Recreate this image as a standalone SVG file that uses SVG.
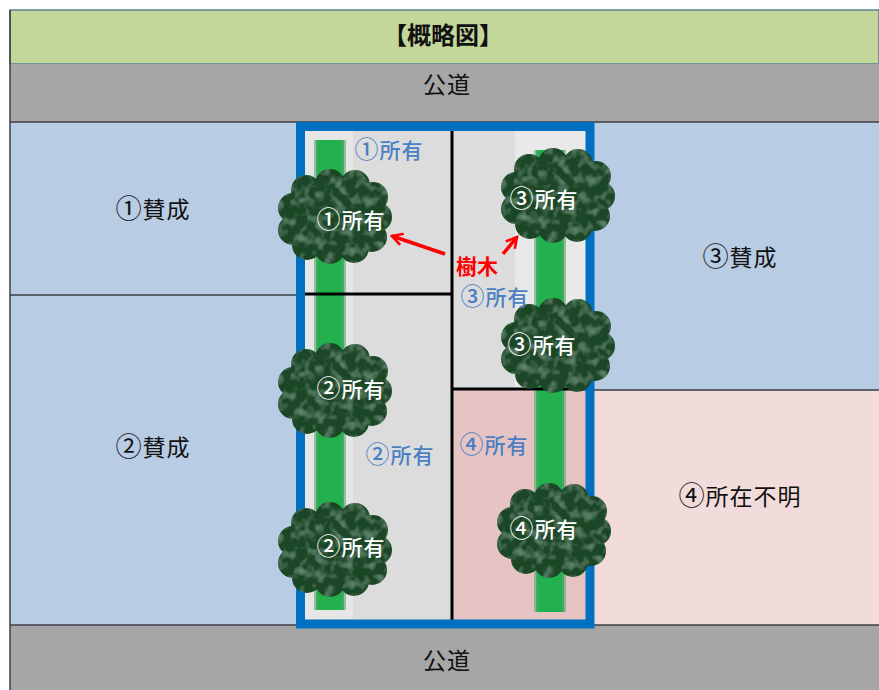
<svg xmlns="http://www.w3.org/2000/svg" width="879" height="690" viewBox="0 0 879 690">
  <style>
    text { font-family: "Noto Sans CJK JP", "Noto Sans", sans-serif; text-anchor: middle; }
    .lbl { font-size: 23px; fill: #111; letter-spacing: 1px; }
    .own { font-size: 21px; fill: #4a7fc4; letter-spacing: 1px; font-weight: 500; }
    .tree-lbl { font-size: 21px; fill: #ffffff; letter-spacing: 1px; font-weight: 500; }
    .num { font-size: 1.14em; }
    .edge { stroke: #3a3f46; stroke-width: 1.5; fill: none; }
    .div { stroke: #000; stroke-width: 3; fill: none; }
    .strip { fill: #22b14c; }
    .strip-edge { fill: #5aa56c; opacity: 0.6; }
  </style>
  <defs>
    <filter id="leaf" x="-10%" y="-10%" width="120%" height="120%">
      <feTurbulence type="fractalNoise" baseFrequency="0.1" numOctaves="2" seed="5" result="n"/>
      <feColorMatrix in="n" type="matrix" values="0 0 0 0 0.22  0 0 0 0 0.42  0 0 0 0 0.29  0 0 0 1.3 -0.6" result="spots"/>
      <feComposite in="spots" in2="SourceGraphic" operator="in" result="s2"/>
      <feMerge><feMergeNode in="SourceGraphic"/><feMergeNode in="s2"/></feMerge>
    </filter>
    <g id="cloud" fill="#1b4728">
      <ellipse cx="0" cy="0" rx="42" ry="36"/>
      <circle cx="-5" cy="-32" r="15"/>
      <circle cx="20" cy="-31" r="15"/>
      <circle cx="38" cy="-19" r="15"/>
      <circle cx="42" cy="1" r="15"/>
      <circle cx="37" cy="21" r="15"/>
      <circle cx="19" cy="32" r="15"/>
      <circle cx="-5" cy="33" r="15"/>
      <circle cx="-28" cy="29" r="15"/>
      <circle cx="-42" cy="14" r="15"/>
      <circle cx="-42" cy="-8" r="15"/>
      <circle cx="-29" cy="-26" r="15"/>
    </g>
    <marker id="head" viewBox="0 0 12 12" refX="10" refY="6" markerWidth="4" markerHeight="4" orient="auto" markerUnits="strokeWidth">
      <path d="M1,1 L10,6 L1,11" fill="none" stroke="#ff0000" stroke-width="2.2"/>
    </marker>
  </defs>

  <!-- background -->
  <rect x="0" y="0" width="879" height="690" fill="#ffffff"/>

  <!-- header band -->
  <g id="header">
    <rect x="10" y="10" width="869" height="54" fill="#c4d79b" stroke="#5b7f95" stroke-width="1.5"/>
    <text x="443" y="44" style="font-size:24px;font-weight:bold;fill:#111">【概略図】</text>
  </g>

  <!-- public roads -->
  <g id="road-top">
    <rect x="10" y="64" width="869" height="58" fill="#a6a6a6"/>
    <text class="lbl" x="447" y="93">公道</text>
  </g>
  <g id="road-bottom">
    <rect x="10" y="625" width="869" height="65" fill="#a6a6a6"/>
    <text class="lbl" x="447" y="669">公道</text>
  </g>

  <!-- neighbouring lots -->
  <g id="lot-1">
    <rect x="10" y="122" width="290" height="173" fill="#b8cce4"/>
    <text class="lbl" x="153" y="218"><tspan class="num">①</tspan>賛成</text>
  </g>
  <g id="lot-2">
    <rect x="10" y="295" width="290" height="330" fill="#b8cce4"/>
    <text class="lbl" x="153" y="456"><tspan class="num">②</tspan>賛成</text>
  </g>
  <g id="lot-3">
    <rect x="590" y="122" width="289" height="268" fill="#b8cce4"/>
    <text class="lbl" x="740" y="266"><tspan class="num">③</tspan>賛成</text>
  </g>
  <g id="lot-4">
    <rect x="590" y="390" width="289" height="235" fill="#f2dcdb"/>
    <text class="lbl" x="740" y="505"><tspan class="num">④</tspan>所在不明</text>
  </g>

  <!-- boundary lines between lots and roads -->
  <g id="boundaries">
    <line class="edge" x1="10" y1="10" x2="10" y2="690"/>
    <line class="edge" x1="10" y1="122" x2="879" y2="122"/>
    <line class="edge" x1="10" y1="295" x2="300" y2="295"/>
    <line class="edge" x1="590" y1="390" x2="879" y2="390"/>
    <line class="edge" x1="10" y1="625" x2="879" y2="625"/>
  </g>

  <!-- private road site -->
  <g id="site">
    <rect x="300" y="126" width="290" height="498" fill="#dcdcdc"/>
    <rect x="305" y="131" width="48" height="488" fill="#e6e6e6"/>
    <rect x="515" y="131" width="73" height="259" fill="#e9e9e9"/>
    <rect x="452" y="390" width="136" height="230" fill="#e6c4c4"/>
  </g>

  <!-- hedge strips -->
  <g id="hedge-left">
    <rect class="strip" x="316" y="140" width="28" height="470"/>
    <rect class="strip-edge" x="314" y="140" width="4" height="470"/>
    <rect class="strip-edge" x="342" y="140" width="4" height="470"/>
  </g>
  <g id="hedge-right">
    <rect class="strip" x="536" y="150" width="28" height="462"/>
    <rect class="strip-edge" x="534" y="150" width="4" height="462"/>
    <rect class="strip-edge" x="562" y="150" width="4" height="462"/>
  </g>

  <!-- parcel division lines -->
  <g id="divisions">
    <line class="div" x1="452" y1="128" x2="452" y2="620"/>
    <line class="div" x1="300" y1="294" x2="452" y2="294"/>
    <line class="div" x1="452" y1="389" x2="588" y2="389"/>
  </g>

  <!-- site outline -->
  <rect id="site-outline" x="300.5" y="126.5" width="289.5" height="497.5" fill="none" stroke="#0070c0" stroke-width="9"/>

  <!-- trees -->
  <g id="tree-1">
    <use href="#cloud" transform="translate(335,216)" filter="url(#leaf)"/>
    <text class="tree-lbl" x="351" y="228"><tspan class="num">①</tspan>所有</text>
  </g>
  <g id="tree-3a">
    <use href="#cloud" transform="translate(558,195)" filter="url(#leaf)"/>
    <text class="tree-lbl" x="544" y="207"><tspan class="num">③</tspan>所有</text>
  </g>
  <g id="tree-3b">
    <use href="#cloud" transform="translate(558,345)" filter="url(#leaf)"/>
    <text class="tree-lbl" x="542" y="353"><tspan class="num">③</tspan>所有</text>
  </g>
  <g id="tree-2a">
    <use href="#cloud" transform="translate(335,390)" filter="url(#leaf)"/>
    <text class="tree-lbl" x="351" y="397"><tspan class="num">②</tspan>所有</text>
  </g>
  <g id="tree-2b">
    <use href="#cloud" transform="translate(335,549)" filter="url(#leaf)"/>
    <text class="tree-lbl" x="351" y="555"><tspan class="num">②</tspan>所有</text>
  </g>
  <g id="tree-4">
    <use href="#cloud" transform="translate(554,530)" filter="url(#leaf)"/>
    <text class="tree-lbl" x="544" y="537"><tspan class="num">④</tspan>所有</text>
  </g>

  <!-- ownership labels on the site -->
  <g id="owners">
    <text class="own" x="389" y="158"><tspan class="num">①</tspan>所有</text>
    <text class="own" x="495" y="305"><tspan class="num">③</tspan>所有</text>
    <text class="own" x="400" y="463"><tspan class="num">②</tspan>所有</text>
    <text class="own" x="494" y="453"><tspan class="num">④</tspan>所有</text>
  </g>

  <!-- tree callout -->
  <g id="callout">
    <line x1="445" y1="254" x2="392" y2="236" stroke="#ff0000" stroke-width="3.5" marker-end="url(#head)"/>
    <line x1="503" y1="254" x2="517" y2="237" stroke="#ff0000" stroke-width="3.5" marker-end="url(#head)"/>
    <text x="477" y="274" style="font-size:21px;font-weight:bold;fill:#ff0000">樹木</text>
  </g>
</svg>
